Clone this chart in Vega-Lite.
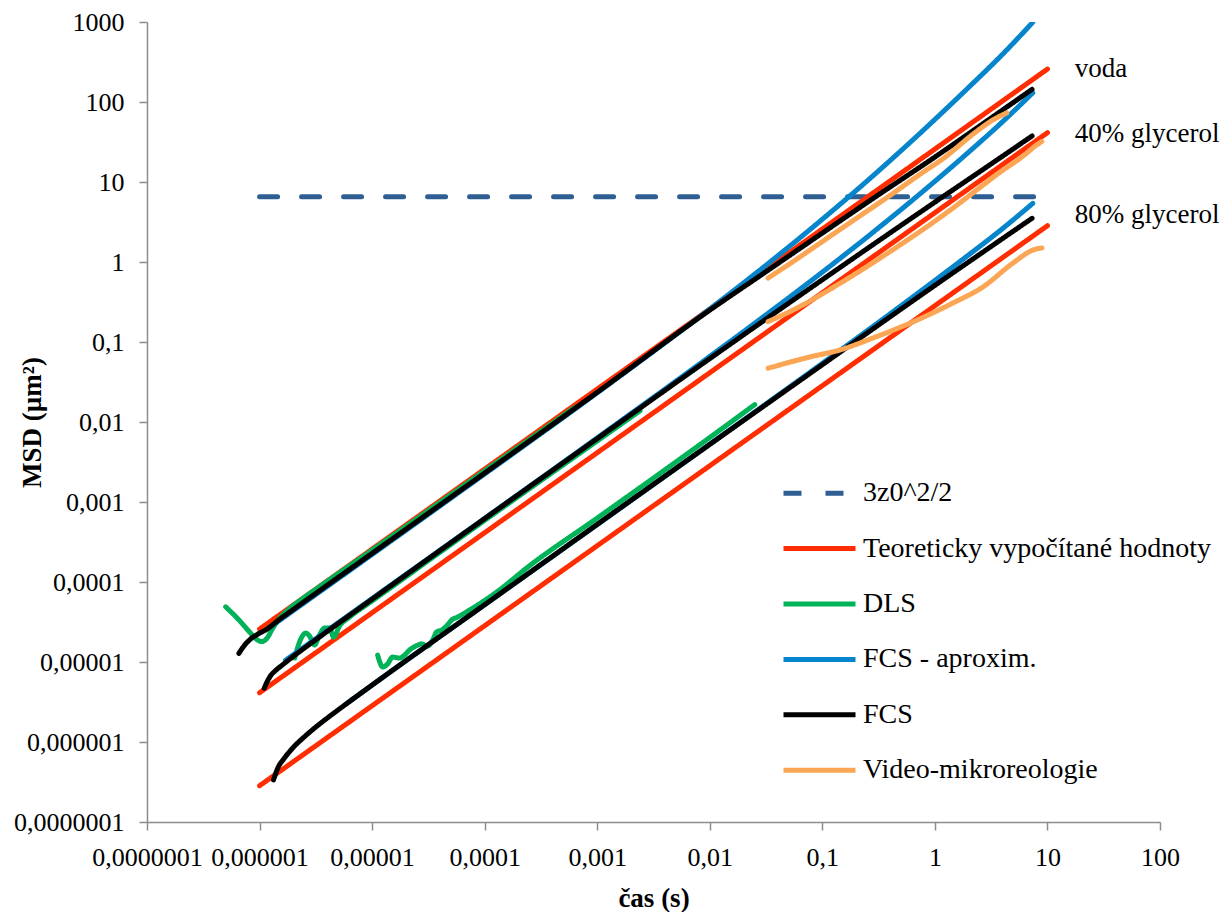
{
  "$schema": "https://vega.github.io/schema/vega-lite/v6.json",
  "width": 1013,
  "height": 800,
  "autosize": {"type": "none"},
  "padding": {"left": 147, "top": 22, "right": 64, "bottom": 90},
  "background": "white",
  "config": {"view": {"stroke": null}, "font": "Liberation Serif"},
  "data": {"values": [
    {"serie": "3z0^2/2", "id": "z", "t": 1e-6, "msd": 6.55},
    {"serie": "3z0^2/2", "id": "z", "t": 7.7, "msd": 6.55},

    {"serie": "Teoreticky vypočítané hodnoty", "id": "r1", "t": 1e-6, "msd": 2.58e-5},
    {"serie": "Teoreticky vypočítané hodnoty", "id": "r1", "t": 10, "msd": 258},
    {"serie": "Teoreticky vypočítané hodnoty", "id": "r2", "t": 1e-6, "msd": 4.13e-6},
    {"serie": "Teoreticky vypočítané hodnoty", "id": "r2", "t": 10, "msd": 41.3},
    {"serie": "Teoreticky vypočítané hodnoty", "id": "r3", "t": 1e-6, "msd": 2.84e-7},
    {"serie": "Teoreticky vypočítané hodnoty", "id": "r3", "t": 10, "msd": 2.84},

    {"serie": "DLS", "id": "g1", "t": 5e-7, "msd": 4.9e-5},
    {"serie": "DLS", "id": "g1", "t": 6.5e-7, "msd": 3.4e-5},
    {"serie": "DLS", "id": "g1", "t": 8.2e-7, "msd": 2.35e-5},
    {"serie": "DLS", "id": "g1", "t": 9.5e-7, "msd": 1.9e-5},
    {"serie": "DLS", "id": "g1", "t": 1.05e-6, "msd": 1.8e-5},
    {"serie": "DLS", "id": "g1", "t": 1.17e-6, "msd": 2.0e-5},
    {"serie": "DLS", "id": "g1", "t": 1.3e-6, "msd": 2.6e-5},
    {"serie": "DLS", "id": "g1", "t": 1.5e-6, "msd": 3.5e-5},
    {"serie": "DLS", "id": "g1", "t": 1.8e-6, "msd": 4.5e-5},
    {"serie": "DLS", "id": "g1", "t": 2.3e-6, "msd": 5.9e-5},
    {"serie": "DLS", "id": "g1", "t": 3e-6, "msd": 7.7e-5},
    {"serie": "DLS", "id": "g1", "t": 1e-5, "msd": 2.5e-4},
    {"serie": "DLS", "id": "g1", "t": 1e-4, "msd": 2.45e-3},
    {"serie": "DLS", "id": "g1", "t": 6.3e-4, "msd": 0.0152},

    {"serie": "DLS", "id": "g2", "t": 2.05e-6, "msd": 1.12e-5},
    {"serie": "DLS", "id": "g2", "t": 2.35e-6, "msd": 2.0e-5},
    {"serie": "DLS", "id": "g2", "t": 2.57e-6, "msd": 2.3e-5},
    {"serie": "DLS", "id": "g2", "t": 2.78e-6, "msd": 2.11e-5},
    {"serie": "DLS", "id": "g2", "t": 3.08e-6, "msd": 1.63e-5},
    {"serie": "DLS", "id": "g2", "t": 3.41e-6, "msd": 2.18e-5},
    {"serie": "DLS", "id": "g2", "t": 3.78e-6, "msd": 2.66e-5},
    {"serie": "DLS", "id": "g2", "t": 4.19e-6, "msd": 2.66e-5},
    {"serie": "DLS", "id": "g2", "t": 4.55e-6, "msd": 2.05e-5},
    {"serie": "DLS", "id": "g2", "t": 5.14e-6, "msd": 2.82e-5},
    {"serie": "DLS", "id": "g2", "t": 6.31e-6, "msd": 3.65e-5},
    {"serie": "DLS", "id": "g2", "t": 1e-5, "msd": 5.8e-5},
    {"serie": "DLS", "id": "g2", "t": 1e-4, "msd": 5.9e-4},
    {"serie": "DLS", "id": "g2", "t": 1e-3, "msd": 5.8e-3},
    {"serie": "DLS", "id": "g2", "t": 2.4e-3, "msd": 0.0138},

    {"serie": "DLS", "id": "g3", "t": 1.12e-5, "msd": 1.22e-5},
    {"serie": "DLS", "id": "g3", "t": 1.17e-5, "msd": 1.0e-5},
    {"serie": "DLS", "id": "g3", "t": 1.24e-5, "msd": 8.66e-6},
    {"serie": "DLS", "id": "g3", "t": 1.37e-5, "msd": 9.44e-6},
    {"serie": "DLS", "id": "g3", "t": 1.52e-5, "msd": 1.15e-5},
    {"serie": "DLS", "id": "g3", "t": 1.75e-5, "msd": 1.12e-5},
    {"serie": "DLS", "id": "g3", "t": 1.94e-5, "msd": 1.22e-5},
    {"serie": "DLS", "id": "g3", "t": 2.15e-5, "msd": 1.41e-5},
    {"serie": "DLS", "id": "g3", "t": 2.44e-5, "msd": 1.58e-5},
    {"serie": "DLS", "id": "g3", "t": 2.75e-5, "msd": 1.68e-5},
    {"serie": "DLS", "id": "g3", "t": 3.11e-5, "msd": 1.58e-5},
    {"serie": "DLS", "id": "g3", "t": 3.45e-5, "msd": 1.88e-5},
    {"serie": "DLS", "id": "g3", "t": 3.74e-5, "msd": 2.37e-5},
    {"serie": "DLS", "id": "g3", "t": 4.15e-5, "msd": 2.51e-5},
    {"serie": "DLS", "id": "g3", "t": 4.59e-5, "msd": 2.82e-5},
    {"serie": "DLS", "id": "g3", "t": 5.09e-5, "msd": 3.35e-5},
    {"serie": "DLS", "id": "g3", "t": 5.75e-5, "msd": 3.65e-5},
    {"serie": "DLS", "id": "g3", "t": 7.36e-5, "msd": 4.47e-5},
    {"serie": "DLS", "id": "g3", "t": 1.28e-4, "msd": 7.5e-5},
    {"serie": "DLS", "id": "g3", "t": 2.51e-4, "msd": 1.6e-4},
    {"serie": "DLS", "id": "g3", "t": 1e-3, "msd": 6.3e-4},
    {"serie": "DLS", "id": "g3", "t": 0.01, "msd": 6.4e-3},
    {"serie": "DLS", "id": "g3", "t": 0.0251, "msd": 0.0165},

    {"serie": "FCS - aproxim.", "id": "b1", "t": 1.2e-6, "msd": 2.64e-5},
    {"serie": "FCS - aproxim.", "id": "b1", "t": 1e-5, "msd": 2.21e-4},
    {"serie": "FCS - aproxim.", "id": "b1", "t": 1e-4, "msd": 2.24e-3},
    {"serie": "FCS - aproxim.", "id": "b1", "t": 1e-3, "msd": 0.0232},
    {"serie": "FCS - aproxim.", "id": "b1", "t": 0.01, "msd": 0.2585},
    {"serie": "FCS - aproxim.", "id": "b1", "t": 0.03, "msd": 0.86},
    {"serie": "FCS - aproxim.", "id": "b1", "t": 0.1, "msd": 3.42},
    {"serie": "FCS - aproxim.", "id": "b1", "t": 0.2, "msd": 7.84},
    {"serie": "FCS - aproxim.", "id": "b1", "t": 0.5, "msd": 24.6},
    {"serie": "FCS - aproxim.", "id": "b1", "t": 1, "msd": 60.5},
    {"serie": "FCS - aproxim.", "id": "b1", "t": 2, "msd": 152.9},
    {"serie": "FCS - aproxim.", "id": "b1", "t": 4, "msd": 396},
    {"serie": "FCS - aproxim.", "id": "b1", "t": 7.4, "msd": 990},

    {"serie": "FCS - aproxim.", "id": "b2", "t": 1.7e-6, "msd": 1.05e-5},
    {"serie": "FCS - aproxim.", "id": "b2", "t": 1e-5, "msd": 6.21e-5},
    {"serie": "FCS - aproxim.", "id": "b2", "t": 1e-4, "msd": 6.24e-4},
    {"serie": "FCS - aproxim.", "id": "b2", "t": 1e-3, "msd": 6.33e-3},
    {"serie": "FCS - aproxim.", "id": "b2", "t": 0.01, "msd": 0.066},
    {"serie": "FCS - aproxim.", "id": "b2", "t": 0.03, "msd": 0.207},
    {"serie": "FCS - aproxim.", "id": "b2", "t": 0.1, "msd": 0.747},
    {"serie": "FCS - aproxim.", "id": "b2", "t": 0.3, "msd": 2.52},
    {"serie": "FCS - aproxim.", "id": "b2", "t": 1, "msd": 10.2},
    {"serie": "FCS - aproxim.", "id": "b2", "t": 2, "msd": 23.7},
    {"serie": "FCS - aproxim.", "id": "b2", "t": 4, "msd": 56.8},
    {"serie": "FCS - aproxim.", "id": "b2", "t": 7.4, "msd": 130},

    {"serie": "FCS - aproxim.", "id": "b3", "t": 6e-6, "msd": 3.05e-6},
    {"serie": "FCS - aproxim.", "id": "b3", "t": 1e-5, "msd": 5.15e-6},
    {"serie": "FCS - aproxim.", "id": "b3", "t": 1e-4, "msd": 5.2e-5},
    {"serie": "FCS - aproxim.", "id": "b3", "t": 1e-3, "msd": 5.22e-4},
    {"serie": "FCS - aproxim.", "id": "b3", "t": 0.01, "msd": 5.27e-3},
    {"serie": "FCS - aproxim.", "id": "b3", "t": 0.1, "msd": 0.0541},
    {"serie": "FCS - aproxim.", "id": "b3", "t": 0.3, "msd": 0.167},
    {"serie": "FCS - aproxim.", "id": "b3", "t": 1, "msd": 0.588},
    {"serie": "FCS - aproxim.", "id": "b3", "t": 2, "msd": 1.23},
    {"serie": "FCS - aproxim.", "id": "b3", "t": 4, "msd": 2.62},
    {"serie": "FCS - aproxim.", "id": "b3", "t": 7.4, "msd": 5.4},

    {"serie": "FCS", "id": "k1", "t": 6.55e-7, "msd": 1.28e-5},
    {"serie": "FCS", "id": "k1", "t": 7.3e-7, "msd": 1.6e-5},
    {"serie": "FCS", "id": "k1", "t": 8.2e-7, "msd": 1.9e-5},
    {"serie": "FCS", "id": "k1", "t": 9.5e-7, "msd": 2.2e-5},
    {"serie": "FCS", "id": "k1", "t": 1.15e-6, "msd": 2.55e-5},
    {"serie": "FCS", "id": "k1", "t": 1.5e-6, "msd": 3.4e-5},
    {"serie": "FCS", "id": "k1", "t": 2e-6, "msd": 4.55e-5},
    {"serie": "FCS", "id": "k1", "t": 1e-5, "msd": 2.28e-4},
    {"serie": "FCS", "id": "k1", "t": 1e-4, "msd": 2.3e-3},
    {"serie": "FCS", "id": "k1", "t": 1e-3, "msd": 0.0235},
    {"serie": "FCS", "id": "k1", "t": 0.01, "msd": 0.25},
    {"serie": "FCS", "id": "k1", "t": 0.03, "msd": 0.72},
    {"serie": "FCS", "id": "k1", "t": 0.1, "msd": 2.3},
    {"serie": "FCS", "id": "k1", "t": 0.3, "msd": 6.6},
    {"serie": "FCS", "id": "k1", "t": 1, "msd": 20.5},
    {"serie": "FCS", "id": "k1", "t": 3, "msd": 60},
    {"serie": "FCS", "id": "k1", "t": 7.3, "msd": 144},

    {"serie": "FCS", "id": "k2", "t": 1.1e-6, "msd": 4.7e-6},
    {"serie": "FCS", "id": "k2", "t": 1.17e-6, "msd": 5.7e-6},
    {"serie": "FCS", "id": "k2", "t": 1.25e-6, "msd": 6.7e-6},
    {"serie": "FCS", "id": "k2", "t": 1.4e-6, "msd": 7.9e-6},
    {"serie": "FCS", "id": "k2", "t": 1.6e-6, "msd": 9.2e-6},
    {"serie": "FCS", "id": "k2", "t": 2e-6, "msd": 1.18e-5},
    {"serie": "FCS", "id": "k2", "t": 3e-6, "msd": 1.8e-5},
    {"serie": "FCS", "id": "k2", "t": 1e-5, "msd": 6.1e-5},
    {"serie": "FCS", "id": "k2", "t": 1e-4, "msd": 6.2e-4},
    {"serie": "FCS", "id": "k2", "t": 1e-3, "msd": 6.2e-3},
    {"serie": "FCS", "id": "k2", "t": 0.01, "msd": 0.062},
    {"serie": "FCS", "id": "k2", "t": 0.1, "msd": 0.6},
    {"serie": "FCS", "id": "k2", "t": 1, "msd": 5.6},
    {"serie": "FCS", "id": "k2", "t": 3, "msd": 16},
    {"serie": "FCS", "id": "k2", "t": 7.3, "msd": 37.6},

    {"serie": "FCS", "id": "k3", "t": 1.33e-6, "msd": 3.35e-7},
    {"serie": "FCS", "id": "k3", "t": 1.45e-6, "msd": 4.7e-7},
    {"serie": "FCS", "id": "k3", "t": 1.65e-6, "msd": 6.2e-7},
    {"serie": "FCS", "id": "k3", "t": 2e-6, "msd": 8.6e-7},
    {"serie": "FCS", "id": "k3", "t": 2.5e-6, "msd": 1.16e-6},
    {"serie": "FCS", "id": "k3", "t": 3.2e-6, "msd": 1.56e-6},
    {"serie": "FCS", "id": "k3", "t": 4.2e-6, "msd": 2.1e-6},
    {"serie": "FCS", "id": "k3", "t": 6e-6, "msd": 3.05e-6},
    {"serie": "FCS", "id": "k3", "t": 1e-5, "msd": 5.15e-6},
    {"serie": "FCS", "id": "k3", "t": 1e-4, "msd": 5.2e-5},
    {"serie": "FCS", "id": "k3", "t": 1e-3, "msd": 5.25e-4},
    {"serie": "FCS", "id": "k3", "t": 0.01, "msd": 5.25e-3},
    {"serie": "FCS", "id": "k3", "t": 0.1, "msd": 0.052},
    {"serie": "FCS", "id": "k3", "t": 1, "msd": 0.51},
    {"serie": "FCS", "id": "k3", "t": 7.3, "msd": 3.52},

    {"serie": "Video-mikroreologie", "id": "o1", "t": 0.033, "msd": 0.63},
    {"serie": "Video-mikroreologie", "id": "o1", "t": 0.06, "msd": 1.1},
    {"serie": "Video-mikroreologie", "id": "o1", "t": 0.1, "msd": 1.8},
    {"serie": "Video-mikroreologie", "id": "o1", "t": 0.2, "msd": 3.5},
    {"serie": "Video-mikroreologie", "id": "o1", "t": 0.4, "msd": 6.8},
    {"serie": "Video-mikroreologie", "id": "o1", "t": 0.8, "msd": 13.5},
    {"serie": "Video-mikroreologie", "id": "o1", "t": 1.15, "msd": 19},
    {"serie": "Video-mikroreologie", "id": "o1", "t": 2.3, "msd": 42},
    {"serie": "Video-mikroreologie", "id": "o1", "t": 3.3, "msd": 60},
    {"serie": "Video-mikroreologie", "id": "o1", "t": 3.9, "msd": 68},
    {"serie": "Video-mikroreologie", "id": "o1", "t": 4.35, "msd": 73},

    {"serie": "Video-mikroreologie", "id": "o2", "t": 0.033, "msd": 0.18},
    {"serie": "Video-mikroreologie", "id": "o2", "t": 0.05, "msd": 0.235},
    {"serie": "Video-mikroreologie", "id": "o2", "t": 0.07, "msd": 0.3},
    {"serie": "Video-mikroreologie", "id": "o2", "t": 0.1, "msd": 0.4},
    {"serie": "Video-mikroreologie", "id": "o2", "t": 0.2, "msd": 0.72},
    {"serie": "Video-mikroreologie", "id": "o2", "t": 0.4, "msd": 1.35},
    {"serie": "Video-mikroreologie", "id": "o2", "t": 0.8, "msd": 2.6},
    {"serie": "Video-mikroreologie", "id": "o2", "t": 1.5, "msd": 4.9},
    {"serie": "Video-mikroreologie", "id": "o2", "t": 2.5, "msd": 8.5},
    {"serie": "Video-mikroreologie", "id": "o2", "t": 4, "msd": 14},
    {"serie": "Video-mikroreologie", "id": "o2", "t": 5.5, "msd": 19},
    {"serie": "Video-mikroreologie", "id": "o2", "t": 6.8, "msd": 24},
    {"serie": "Video-mikroreologie", "id": "o2", "t": 7.6, "msd": 27.5},
    {"serie": "Video-mikroreologie", "id": "o2", "t": 8.9, "msd": 32},

    {"serie": "Video-mikroreologie", "id": "o3", "t": 0.033, "msd": 0.047},
    {"serie": "Video-mikroreologie", "id": "o3", "t": 0.0775, "msd": 0.065},
    {"serie": "Video-mikroreologie", "id": "o3", "t": 0.143, "msd": 0.0794},
    {"serie": "Video-mikroreologie", "id": "o3", "t": 0.281, "msd": 0.112},
    {"serie": "Video-mikroreologie", "id": "o3", "t": 0.637, "msd": 0.178},
    {"serie": "Video-mikroreologie", "id": "o3", "t": 1.445, "msd": 0.307},
    {"serie": "Video-mikroreologie", "id": "o3", "t": 2.67, "msd": 0.487},
    {"serie": "Video-mikroreologie", "id": "o3", "t": 4.94, "msd": 0.97},
    {"serie": "Video-mikroreologie", "id": "o3", "t": 7.43, "msd": 1.41},
    {"serie": "Video-mikroreologie", "id": "o3", "t": 8.93, "msd": 1.5}
  ]},
  "encoding": {
    "x": {
      "field": "t", "type": "quantitative",
      "scale": {"type": "log", "domain": [1e-7, 100], "nice": false},
      "axis": {
        "values": [1e-7, 1e-6, 1e-5, 1e-4, 1e-3, 0.01, 0.1, 1, 10, 100],
        "labelExpr": "datum.value >= 1 ? format(datum.value, 'd') : replace(format(datum.value, '.7~f'), '.', ',')",
        "grid": false, "domainColor": "#8c8c8c", "domainWidth": 1.5,
        "tickColor": "#8c8c8c", "tickWidth": 1.5, "tickSize": 8,
        "labelFont": "Liberation Serif", "labelFontSize": 26, "labelColor": "black",
        "labelPadding": 14, "labelFlush": false, "labelOverlap": false, "labelBound": false,
        "title": "čas (s)", "titleFont": "Liberation Serif", "titleFontSize": 27,
        "titleFontWeight": "bold", "titleColor": "black", "titleY": 76, "titleBaseline": "middle"
      }
    },
    "y": {
      "field": "msd", "type": "quantitative",
      "scale": {"type": "log", "domain": [1e-7, 1000], "nice": false},
      "axis": {
        "values": [1e-7, 1e-6, 1e-5, 1e-4, 1e-3, 0.01, 0.1, 1, 10, 100, 1000],
        "labelExpr": "datum.value >= 1 ? format(datum.value, 'd') : replace(format(datum.value, '.7~f'), '.', ',')",
        "grid": false, "domainColor": "#8c8c8c", "domainWidth": 1.5,
        "tickColor": "#8c8c8c", "tickWidth": 1.5, "tickSize": 8,
        "labelFont": "Liberation Serif", "labelFontSize": 26, "labelColor": "black",
        "labelPadding": 15, "labelFlush": false, "labelOverlap": false, "labelBound": false,
        "title": "MSD (µm²)", "titleFont": "Liberation Serif", "titleFontSize": 27,
        "titleFontWeight": "bold", "titleColor": "black", "titleX": -115, "titleY": 400,
        "titleBaseline": "middle", "titleAngle": -90
      }
    }
  },
  "layer": [
    {
      "transform": [{"filter": {"field": "serie", "equal": "3z0^2/2"}}],
      "mark": {"type": "line", "strokeWidth": 5, "strokeCap": "round", "clip": true},
      "encoding": {
        "detail": {"field": "id"},
        "color": {"field": "serie", "type": "nominal",
          "scale": {"domain": ["3z0^2/2", "Teoreticky vypočítané hodnoty", "DLS", "FCS - aproxim.", "FCS", "Video-mikroreologie"],
                    "range": ["#2E5E92", "#FF2D00", "#00B359", "#0685CD", "#000000", "#FBA654"]},
          "legend": {"orient": "none", "legendX": 634, "legendY": 432.7, "title": null,
                     "labelFont": "Liberation Serif", "labelFontSize": 28, "labelColor": "black",
                     "symbolType": "stroke", "symbolSize": 5184, "symbolStrokeWidth": 5,
                     "rowPadding": 2.4, "labelOffset": 5, "padding": 0, "labelLimit": 600}},
        "strokeDash": {"field": "serie", "type": "nominal",
          "scale": {"domain": ["3z0^2/2", "Teoreticky vypočítané hodnoty", "DLS", "FCS - aproxim.", "FCS", "Video-mikroreologie"],
                    "range": [[18, 24], [1, 0], [1, 0], [1, 0], [1, 0], [1, 0]]}}
      }
    },
    {
      "transform": [{"filter": {"field": "serie", "equal": "Teoreticky vypočítané hodnoty"}}],
      "mark": {"type": "line", "strokeWidth": 5, "strokeCap": "round", "clip": true},
      "encoding": {
        "detail": {"field": "id"},
        "color": {"field": "serie", "type": "nominal"},
        "strokeDash": {"field": "serie", "type": "nominal"}
      }
    },
    {
      "transform": [{"filter": {"field": "serie", "equal": "DLS"}}],
      "mark": {"type": "line", "strokeWidth": 5, "strokeCap": "round", "strokeJoin": "round", "interpolate": "monotone", "clip": true},
      "encoding": {
        "detail": {"field": "id"},
        "color": {"field": "serie", "type": "nominal"},
        "strokeDash": {"field": "serie", "type": "nominal"}
      }
    },
    {
      "transform": [{"filter": {"field": "serie", "equal": "FCS - aproxim."}}],
      "mark": {"type": "line", "strokeWidth": 5, "strokeCap": "round", "strokeJoin": "round", "interpolate": "monotone", "clip": true},
      "encoding": {
        "detail": {"field": "id"},
        "color": {"field": "serie", "type": "nominal"},
        "strokeDash": {"field": "serie", "type": "nominal"}
      }
    },
    {
      "transform": [{"filter": {"field": "serie", "equal": "FCS"}}],
      "mark": {"type": "line", "strokeWidth": 5, "strokeCap": "round", "strokeJoin": "round", "interpolate": "monotone", "clip": true},
      "encoding": {
        "detail": {"field": "id"},
        "color": {"field": "serie", "type": "nominal"},
        "strokeDash": {"field": "serie", "type": "nominal"}
      }
    },
    {
      "transform": [{"filter": {"field": "serie", "equal": "Video-mikroreologie"}}],
      "mark": {"type": "line", "strokeWidth": 5, "strokeCap": "round", "strokeJoin": "round", "interpolate": "monotone", "clip": true},
      "encoding": {
        "detail": {"field": "id"},
        "color": {"field": "serie", "type": "nominal"},
        "strokeDash": {"field": "serie", "type": "nominal"}
      }
    },
    {
      "data": {"values": [
        {"t": 17.5, "msd": 255, "label": "voda"},
        {"t": 17.5, "msd": 40, "label": "40% glycerol"},
        {"t": 17.5, "msd": 3.9, "label": "80% glycerol"}
      ]},
      "mark": {"type": "text", "align": "left", "baseline": "middle", "font": "Liberation Serif", "fontSize": 27, "color": "black"},
      "encoding": {"text": {"field": "label"}}
    }
  ]
}
